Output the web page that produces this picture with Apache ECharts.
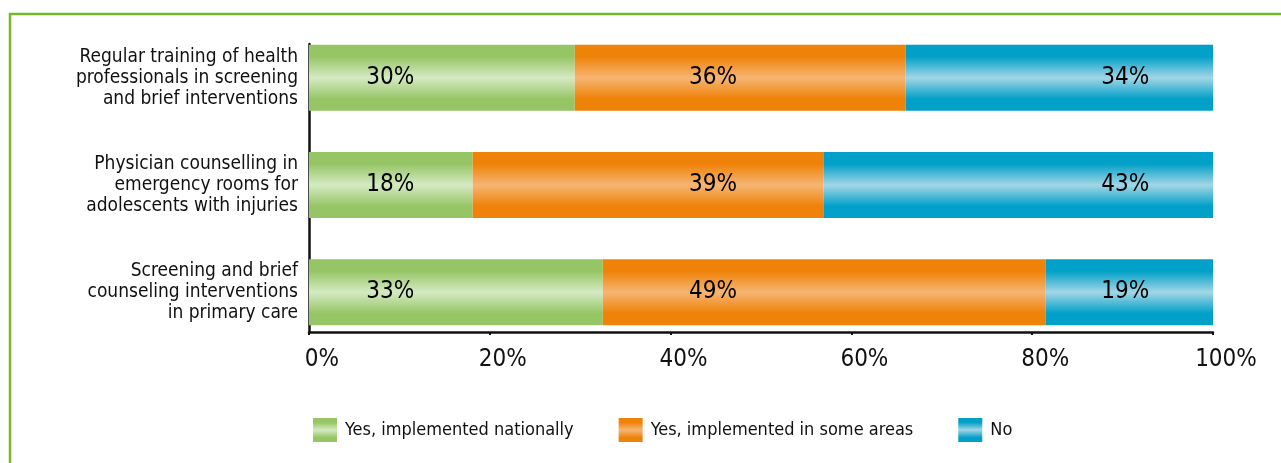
<!DOCTYPE html>
<html>
<head>
<meta charset="utf-8">
<script src="https://cdn.jsdelivr.net/npm/echarts@6/dist/echarts.min.js"></script>
<style>
html,body{margin:0;padding:0;background:#fff;overflow:hidden;}
#chart{width:1281px;height:463px;}
</style>
</head>
<body>
<div id="chart"></div>
<script>
// ---- data ----
const categories = [
  'Regular training of health\nprofessionals in screening\nand brief interventions',
  'Physician counselling in\nemergency rooms for\nadolescents with injuries',
  'Screening and brief\ncounseling interventions\nin primary care'
];
const seriesNames = ['Yes, implemented nationally', 'Yes, implemented in some areas', 'No'];
// bar lengths (%)
const nationally = [29.4, 18.1, 32.5];
const someAreas  = [36.6, 38.8, 49.0];
const no         = [34.0, 43.1, 18.5];
// printed labels (%)
const nationallyLabels = [30, 18, 33];
const someAreasLabels  = [36, 39, 49];
const noLabels         = [34, 43, 19];
const xTicks = [0, 20, 40, 60, 80, 100];

// ---- layout / style ----
const FONT = "'DejaVu Sans Condensed', 'Liberation Sans Narrow', sans-serif";
const labelColumns = [9, 44.7, 90.3]; // fixed x positions of value labels (axis units)
function grad(edge, mid) {
  return new echarts.graphic.LinearGradient(0, 0, 0, 1, [
    {offset: 0, color: edge},
    {offset: 0.18, color: edge},
    {offset: 0.5, color: mid},
    {offset: 0.82, color: edge},
    {offset: 1, color: edge}
  ]);
}
const colors = [
  grad('#96c566', '#d5eac3'),
  grad('#ef8208', '#f6b573'),
  grad('#00a0c8', '#a3d6e6')
];
const values = [nationally, someAreas, no];
const labelVals = [nationallyLabels, someAreasLabels, noLabels];

const barSeries = seriesNames.map((name, s) => ({
  name: name,
  type: 'bar',
  stack: 'total',
  xAxisIndex: 0,
  yAxisIndex: 0,
  barWidth: 66,
  itemStyle: {color: colors[s]},
  emphasis: {disabled: true},
  data: values[s]
}));

const labelData = [];
labelVals.forEach((arr, s) => {
  arr.forEach((v, i) => labelData.push([labelColumns[s], i, v]));
});

const chart = echarts.init(document.getElementById('chart'), null, {renderer: 'canvas'});
chart.setOption({
  animation: false,
  backgroundColor: '#fff',
  textStyle: {fontFamily: FONT},
  graphic: [{
    type: 'rect',
    shape: {x: 10, y: 14, width: 1400, height: 600},
    style: {fill: 'none', stroke: '#76b82a', lineWidth: 2.5},
    silent: true
  }],
  grid: [
    {left: 309, right: 68, top: 24.2, height: 321.6, containLabel: false},
    {left: 309, right: 68, top: 44, height: 288, containLabel: false}
  ],
  xAxis: [
    {gridIndex: 0, type: 'value', min: 0, max: 100, show: false},
    {gridIndex: 1, type: 'value', min: 0, max: 100, interval: 20,
     axisLine: {show: true, lineStyle: {color: '#111', width: 2.5}},
     axisTick: {show: true, length: 3, lineStyle: {color: '#111', width: 2}},
     splitLine: {show: false},
     axisLabel: {fontSize: 24, color: '#111', fontFamily: FONT, margin: 16,
       padding: [0, 0, 0, 26],
       formatter: v => xTicks.indexOf(v) >= 0 ? v + '%' : ''}}
  ],
  yAxis: [
    {gridIndex: 0, type: 'category', inverse: true, data: categories,
     axisLine: {show: false}, axisTick: {show: false},
     axisLabel: {fontSize: 19, lineHeight: 21, color: '#111', fontFamily: FONT, margin: 11, align: 'right'}},
    {gridIndex: 1, type: 'value', min: 0, max: 1,
     axisLine: {show: true, lineStyle: {color: '#111', width: 2.5}},
     axisTick: {show: false}, axisLabel: {show: false}, splitLine: {show: false}}
  ],
  legend: {
    data: seriesNames,
    left: 313, top: 418,
    padding: 0,
    itemWidth: 24, itemHeight: 24, itemGap: 45,
    icon: 'rect',
    selectedMode: false,
    textStyle: {fontSize: 18, color: '#111', fontFamily: FONT, padding: [0, 0, 0, 3]}
  },
  series: barSeries.concat([{
    type: 'scatter',
    xAxisIndex: 0,
    yAxisIndex: 0,
    symbolSize: 1,
    itemStyle: {color: 'rgba(0,0,0,0)'},
    silent: true,
    z: 10,
    label: {show: true, position: 'inside', fontSize: 24, color: '#000', opacity: 1,
      textBorderWidth: 0, fontFamily: FONT,
      formatter: p => p.value[2] + '%'},
    data: labelData
  }])
});
</script>
</body>
</html>
